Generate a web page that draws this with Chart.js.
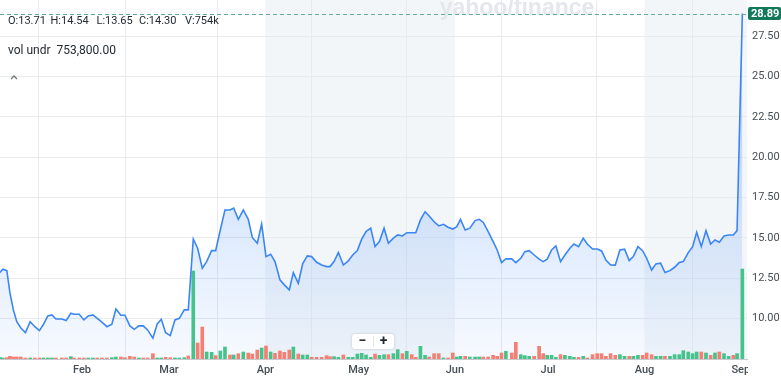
<!DOCTYPE html>
<html><head><meta charset="utf-8">
<script src="https://cdn.jsdelivr.net/npm/chart.js@4.4.0/dist/chart.umd.min.js"></script>
<style>html,body{margin:0;padding:0;background:#fff;}canvas{display:block;}</style>
</head><body>
<canvas id="c" width="781" height="381"></canvas>
<script>
// day of year (Jan 1 = 0) for each trading session
const days = [
4.6,5.5,6.8,7.8,8.9,10.0,11.3,12.8,14.3,15.8,
17.3,18.6,20.0,21.3,22.6,24.5,25.9,27.4,28.4,30.1,
31.6,33.0,34.5,35.9,37.4,39.0,40.6,41.9,43.5,44.8,
46.4,47.8,49.3,50.7,52.1,53.8,55.2,56.5,57.9,59.4,
60.9,62.3,63.9,65.2,66.8,68.2,69.7,71.1,72.7,74.0,
75.5,77.0,78.6,79.8,81.3,82.9,84.5,85.8,87.4,88.8,
90.2,91.7,93.1,94.7,96.1,97.7,99.0,100.6,102.0,103.5,
104.9,106.5,108.1,109.7,110.8,112.1,113.5,115.1,116.7,118.1,
119.6,121.0,122.4,123.9,125.3,126.7,128.2,129.6,131.2,132.6,
134.1,135.5,137.1,138.4,139.9,141.4,142.7,144.3,145.8,147.3,
148.8,150.3,151.6,152.8,154.3,155.8,157.5,158.8,160.1,161.7,
163.3,164.6,166.0,167.4,169.3,170.6,172.2,173.5,174.9,176.5,
178.1,179.4,180.7,182.1,183.5,185.0,186.4,188.0,189.3,190.8,
192.3,193.6,195.3,196.8,198.2,199.6,201.1,202.6,204.1,205.6,
207.1,208.4,209.9,211.4,212.7,214.3,215.7,217.2,218.6,220.2,
221.7,223.2,224.5,226.1,227.5,228.8,230.3,231.8,233.3,234.7,
236.1,237.6,239.1,240.6,241.8,243.5];

const closes = [
12.85,13.06,12.97,11.59,10.54,9.81,9.42,9.13,9.81,9.50,
9.26,9.65,10.17,10.23,9.98,9.98,9.88,10.33,10.27,10.27,
9.92,10.17,10.23,10.02,9.78,9.50,9.65,10.60,10.21,10.21,
9.55,9.34,9.55,9.55,9.30,8.79,9.67,9.96,9.13,8.95,
9.92,10.02,10.54,10.54,14.93,14.36,13.12,13.53,14.21,14.21,
15.49,16.73,16.73,16.85,16.15,16.73,16.15,15.03,14.67,15.86,
13.84,13.99,13.53,12.40,12.09,11.78,12.85,12.19,13.39,13.88,
13.84,13.49,13.32,13.22,13.22,13.53,14.09,13.32,13.57,13.94,
14.21,14.92,15.39,15.60,14.46,14.77,15.60,14.67,14.98,15.18,
15.12,15.32,15.32,15.32,16.11,16.62,16.36,16.00,15.74,15.84,
15.66,15.55,15.70,16.15,15.49,15.60,16.07,16.15,15.97,15.39,
14.77,14.25,13.47,13.71,13.70,13.47,13.74,14.15,14.21,13.94,
13.68,13.53,13.68,14.25,14.50,13.53,13.94,14.36,14.62,14.46,
14.98,14.62,14.31,14.31,14.19,13.63,13.32,13.31,14.25,14.30,
13.59,13.84,14.46,14.21,13.74,13.01,13.39,13.43,12.85,12.97,
13.18,13.47,13.53,14.09,14.46,15.35,14.46,15.45,14.62,14.87,
14.73,15.12,15.18,15.18,15.45,28.89];

// volume, thousands of shares
const volumes = [
200,150,200,400,300,300,300,150,150,150,
150,150,150,150,150,150,150,350,150,150,
150,150,150,150,150,150,200,300,300,200,
400,300,150,150,150,800,150,150,250,200,
150,150,200,450,13200,2400,4800,1050,1000,500,
1200,1800,600,600,800,1050,900,750,1350,1650,
1950,1050,850,1200,1000,1350,1800,750,600,600,
250,250,250,500,350,350,250,600,250,250,
750,850,600,250,750,550,650,650,800,1400,
800,1150,650,250,1900,550,300,800,800,150,
150,900,300,400,400,300,300,300,300,300,
550,400,900,1150,900,2500,650,500,400,400,
1900,800,550,550,250,650,550,400,250,250,
400,150,650,800,800,400,800,550,650,400,
400,400,550,550,900,650,400,400,400,400,
650,650,1250,1050,800,1050,1050,900,550,900,
1050,800,400,550,800,13500];

const monthTickDays = [31,59,90,120,151,181,212,243];
const monthLabels = ['Feb','Mar','Apr','May','Jun','Jul','Aug','Sep'];
const priceTicks = [10,12.5,15,17.5,20,22.5,25,27.5];
const shadedBands = [[90,151],[212,245]];
const quoteParts = ['O:13.71','H:14.54','L:13.65','C:14.30','V:754k'];
const studyName = 'vol undr';
const studyValue = '753,800.00';

const GREEN = '#45c38b', RED = '#f47f73';
const volColors = closes.map((c,i)=> (i===0 || c>closes[i-1]) ? GREEN : RED);
const lastClose = closes[closes.length-1];

const bandsPlugin = {
  id:'bands',
  beforeDraw(chart){
    const {ctx, chartArea:a, scales:{x}} = chart;
    ctx.save();
    ctx.fillStyle = '#f3f6f9';
    shadedBands.forEach(([s,e])=>{
      const x1 = Math.max(a.left, x.getPixelForValue(s));
      const x2 = Math.min(a.right, x.getPixelForValue(e));
      ctx.fillRect(x1, a.top, x2-x1, a.bottom-a.top);
    });
    ctx.font = 'bold 23px "Liberation Sans"';
    ctx.fillStyle = '#e4e7eb';
    ctx.textAlign = 'center';
    ctx.textBaseline = 'alphabetic';
    ctx.fillText('yahoo/finance', 517, 15);
    ctx.restore();
  }
};

const overlayPlugin = {
  id:'overlay',
  afterDraw(chart){
    const {ctx, chartArea:a, scales:{y}} = chart;
    ctx.save();
    // clip the last month label at the plot edge
    ctx.fillStyle = '#fff';
    ctx.fillRect(a.right+1, a.bottom+1, chart.width-a.right, chart.height-a.bottom);
    // last price dashed line
    const py = y.getPixelForValue(lastClose);
    ctx.strokeStyle = '#5fae9d';
    ctx.lineWidth = 1;
    ctx.setLineDash([4,3]);
    ctx.beginPath(); ctx.moveTo(a.left, Math.round(py)+0.5); ctx.lineTo(a.right, Math.round(py)+0.5); ctx.stroke();
    ctx.setLineDash([]);
    // price label
    ctx.fillStyle = '#127a5b';
    ctx.beginPath();
    ctx.roundRect(a.right+1, py-6.5, chart.width-a.right-1, 13, 2);
    ctx.fill();
    ctx.fillStyle = '#fff';
    ctx.font = 'bold 11px Roboto';
    ctx.textAlign = 'left';
    ctx.textBaseline = 'middle';
    ctx.fillText(lastClose.toFixed(2), a.right+4, py+0.5);
    // quote texts
    ctx.fillStyle = '#232a31';
    ctx.font = '11px Roboto';
    const qx = [8, 50.5, 96.5, 139, 185];
    quoteParts.forEach((t,i)=>ctx.fillText(t, qx[i], 21));
    ctx.font = '12px Roboto';
    ctx.fillText(studyName, 8, 51);
    ctx.fillText(studyValue, 56.5, 51);
    // chevron
    ctx.strokeStyle = '#6e7780';
    ctx.lineWidth = 1.3;
    ctx.beginPath(); ctx.moveTo(11,79); ctx.lineTo(14,76); ctx.lineTo(17,79); ctx.stroke();
    // zoom buttons
    ctx.shadowColor = 'rgba(0,0,0,0.18)';
    ctx.shadowBlur = 3;
    ctx.fillStyle = '#fff';
    ctx.beginPath(); ctx.roundRect(352,334,42,15,3); ctx.fill();
    ctx.shadowBlur = 0; ctx.shadowColor = 'transparent';
    ctx.strokeStyle = '#e3e6e9'; ctx.lineWidth = 1;
    ctx.beginPath(); ctx.moveTo(373.5,336); ctx.lineTo(373.5,347); ctx.stroke();
    ctx.fillStyle = '#232a31';
    ctx.font = 'bold 14px Roboto';
    ctx.textAlign = 'center';
    ctx.fillText('\u2212', 362.5, 341.5);
    ctx.fillText('+', 383.5, 341.5);
    ctx.restore();
  }
};

new Chart(document.getElementById('c'), {
  type:'bar',
  data:{
    datasets:[
      {
        type:'line',
        data: days.map((d,i)=>({x:d, y:closes[i]})),
        yAxisID:'y',
        borderColor:'#3a86f6',
        borderWidth:1.6,
        pointRadius:0,
        tension:0,
        fill:'start',
        backgroundColor:(ctx)=>{
          const ch = ctx.chart, a = ch.chartArea;
          if(!a) return 'rgba(59,130,246,0.15)';
          const g = ch.ctx.createLinearGradient(0, a.top, 0, a.bottom);
          g.addColorStop(0, 'rgba(59,134,246,0.40)');
          g.addColorStop(0.55, 'rgba(59,134,246,0.20)');
          g.addColorStop(1, 'rgba(59,134,246,0.04)');
          return g;
        },
        order:1
      },
      {
        type:'bar',
        data: days.map((d,i)=>({x:d, y:volumes[i]})),
        yAxisID:'yv',
        backgroundColor: volColors,
        barThickness:3,
        order:2
      }
    ]
  },
  options:{
    responsive:false,
    animation:false,
    devicePixelRatio:1,
    layout:{padding:0},
    plugins:{legend:{display:false}, tooltip:{enabled:false}, filler:{drawTime:'beforeDatasetsDraw'}},
    scales:{
      x:{
        type:'linear', min:4.6, max:245, offset:false,
        afterBuildTicks:(s)=>{ s.ticks = monthTickDays.map(v=>({value:v})); },
        afterFit:(s)=>{ s.height = 22; s.paddingLeft = 0; s.paddingRight = 0; },
        grid:{color:'#e8ebee', drawTicks:false},
        border:{display:true, color:'#c7cbcf'},
        ticks:{
          autoSkip:false, maxRotation:0, padding:5, color:'#464e56',
          font:{family:'Roboto', size:11, weight:'500'},
          callback:(v)=>{ const i = monthTickDays.indexOf(v); return i>=0 ? monthLabels[i] : ''; }
        }
      },
      y:{
        position:'right', min:7.5, max:29.73,
        afterBuildTicks:(s)=>{ s.ticks = priceTicks.map(v=>({value:v})); },
        afterFit:(s)=>{ s.width = 34; s.paddingTop = 0; s.paddingBottom = 0; },
        grid:{color:'#e8ebee', drawTicks:false},
        border:{display:false},
        ticks:{padding:5, color:'#464e56', font:{family:'Roboto', size:11}, callback:(v)=>Number(v).toFixed(2)}
      },
      yv:{display:false, min:0, max:53850}
    }
  },
  plugins:[bandsPlugin, overlayPlugin]
});
</script>
</body></html>
